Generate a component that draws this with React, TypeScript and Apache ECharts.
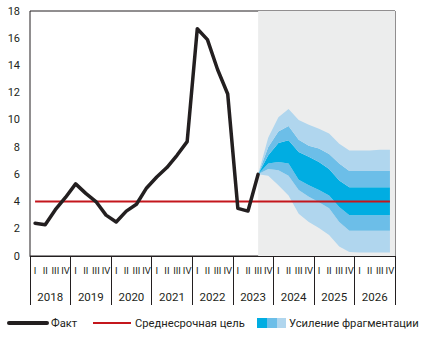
import React, { useEffect, useRef } from "react";
import * as echarts from "echarts";

const years = ["2018", "2019", "2020", "2021", "2022", "2023", "2024", "2025", "2026"];
const quarters = ["I", "II", "III", "IV"];
const yTicks = [0, 2, 4, 6, 8, 10, 12, 14, 16, 18];

// Fact (2018 I .. 2023 III)
const fact = [2.4, 2.3, 3.4, 4.3, 5.3, 4.6, 4.0, 3.0, 2.5, 3.3, 3.8, 5.0, 5.8, 6.5, 7.4, 8.4, 16.7, 15.9, 13.7, 11.9, 3.5, 3.3, 6.0];
// Medium-term target
const target = 4;
// Fan boundaries (2023 III .. 2026 IV)
const fanStart = "2023 III";
const outerTop = [6.0, 8.7, 10.2, 10.8, 10.0, 9.65, 9.35, 9.0, 8.25, 7.75, 7.75, 7.75, 7.8, 7.8];
const midTop = [6.0, 8.0, 9.15, 9.55, 8.55, 8.1, 7.9, 7.5, 6.8, 6.25, 6.25, 6.25, 6.25, 6.25];
const innerTop = [6.0, 7.4, 8.3, 8.5, 7.65, 7.3, 6.9, 6.4, 5.55, 5.05, 5.05, 5.05, 5.05, 5.05];
const innerBottom = [6.0, 6.8, 6.9, 6.8, 5.6, 5.2, 4.85, 4.45, 3.6, 3.0, 3.0, 3.0, 3.0, 3.0];
const midBottom = [6.0, 6.4, 6.3, 5.9, 4.85, 4.35, 3.95, 3.5, 2.5, 1.85, 1.85, 1.85, 1.85, 1.85];
const outerBottom = [6.0, 5.9, 5.2, 4.45, 3.1, 2.5, 2.05, 1.55, 0.7, 0.3, 0.25, 0.25, 0.25, 0.25];

const C_DARK = "#00ADE2";
const C_MID = "#6CBEE8";
const C_LIGHT = "#B0D6EE";
const C_GRAY = "#ECEDED";
const C_RED = "#C4161C";
const C_BLACK = "#231F20";
const FONT = "Roboto";

export default function App() {
  const ref = useRef<HTMLDivElement>(null);
  useEffect(() => {
    if (!ref.current) return;
    document.body.style.margin = "0";
    const chart = echarts.init(ref.current, null, { renderer: "svg" });
    const cats: string[] = [];
    years.forEach((y) => quarters.forEach((q) => cats.push(`${y} ${q}`)));
    const startIdx = cats.indexOf(fanStart);
    const pad = (arr: number[]) => cats.map((_, i) => (i >= startIdx && i - startIdx < arr.length ? arr[i - startIdx] : null));
    const diff = (a: number[], b: number[]) => a.map((v, i) => +(v - b[i]).toFixed(3));
    const layers: [number[], string | null][] = [
      [outerBottom, null],
      [diff(midBottom, outerBottom), C_LIGHT],
      [diff(innerBottom, midBottom), C_MID],
      [diff(innerTop, innerBottom), C_DARK],
      [diff(midTop, innerTop), C_MID],
      [diff(outerTop, midTop), C_LIGHT],
    ];
    const fanSeries = layers.map(([arr, color], k) => ({
      type: "line",
      name: "fan" + k,
      stack: "fan",
      data: pad(arr),
      showSymbol: false,
      symbol: "none",
      silent: true,
      lineStyle: { width: 0, opacity: 0 },
      areaStyle: color ? { color, opacity: 1 } : undefined,
      z: 2,
    }));

    chart.setOption({
      animation: false,
      textStyle: { fontFamily: FONT },
      grid: { left: 30, right: 39, top: 11, bottom: 83, show: true, borderColor: C_BLACK, borderWidth: 1, backgroundColor: "transparent" },
      xAxis: [
        {
          type: "category",
          data: cats,
          boundaryGap: true,
          axisLine: { show: true, lineStyle: { color: C_BLACK, width: 1 } },
          axisTick: { show: false },
          axisLabel: { interval: 0, margin: 9, fontSize: 9.5, color: C_BLACK, fontFamily: "Roboto", formatter: (v: string) => v.split(" ")[1] },
          splitLine: { show: false },
        },
        {
          type: "category",
          data: years,
          position: "bottom",
          boundaryGap: true,
          axisLine: { show: false },
          axisTick: { show: true, interval: 0, length: 49, lineStyle: { color: C_BLACK, width: 1 } },
          axisLabel: { interval: 0, margin: 35, fontSize: 11.5, color: C_BLACK },
          splitLine: { show: false },
        },
      ],
      yAxis: {
        type: "value",
        min: yTicks[0],
        max: yTicks[yTicks.length - 1],
        interval: 2,
        axisLine: { show: false },
        axisTick: { show: false },
        splitLine: { show: false },
        axisLabel: { margin: 10, fontSize: 11, color: C_BLACK },
      },
      series: [
        {
          type: "line",
          name: "bg",
          data: [],
          silent: true,
          markArea: {
            silent: true,
            itemStyle: { color: C_GRAY, opacity: 1 },
            data: [[{ xAxis: fanStart }, {}]],
          },
          z: 0,
        },
        ...fanSeries,
        {
          type: "line",
          name: "Среднесрочная цель",
          data: cats.map(() => target),
          showSymbol: false,
          symbol: "none",
          lineStyle: { color: C_RED, width: 2 },
          z: 4,
        },
        {
          type: "line",
          name: "Факт",
          data: fact,
          showSymbol: false,
          symbol: "none",
          lineStyle: { color: C_BLACK, width: 3.5, join: "round", cap: "round" },
          z: 5,
        },
      ],
      graphic: [
        { type: "line", shape: { x1: 9, y1: 323, x2: 47, y2: 323 }, style: { stroke: C_BLACK, lineWidth: 4, lineCap: "round" } },
        { type: "text", x: 51, y: 323, style: { text: "Факт", fontSize: 11.2, fontFamily: FONT, fill: C_BLACK, verticalAlign: "middle" } },
        { type: "line", shape: { x1: 93, y1: 323, x2: 131, y2: 323 }, style: { stroke: C_RED, lineWidth: 2 } },
        { type: "text", x: 135, y: 323, style: { text: "Среднесрочная цель", fontSize: 11.2, fontFamily: FONT, fill: C_BLACK, verticalAlign: "middle" } },
        { type: "rect", shape: { x: 257, y: 318, width: 10, height: 10 }, style: { fill: C_DARK } },
        { type: "rect", shape: { x: 267, y: 318, width: 10, height: 10 }, style: { fill: C_MID } },
        { type: "rect", shape: { x: 277, y: 318, width: 9, height: 10 }, style: { fill: C_LIGHT } },
        { type: "text", x: 289, y: 323, style: { text: "Усиление фрагментации", fontSize: 11.2, fontFamily: FONT, fill: C_BLACK, verticalAlign: "middle" } },
      ],
    });
    return () => chart.dispose();
  }, []);
  return <div ref={ref} style={{ width: 434, height: 339 }} />;
}
